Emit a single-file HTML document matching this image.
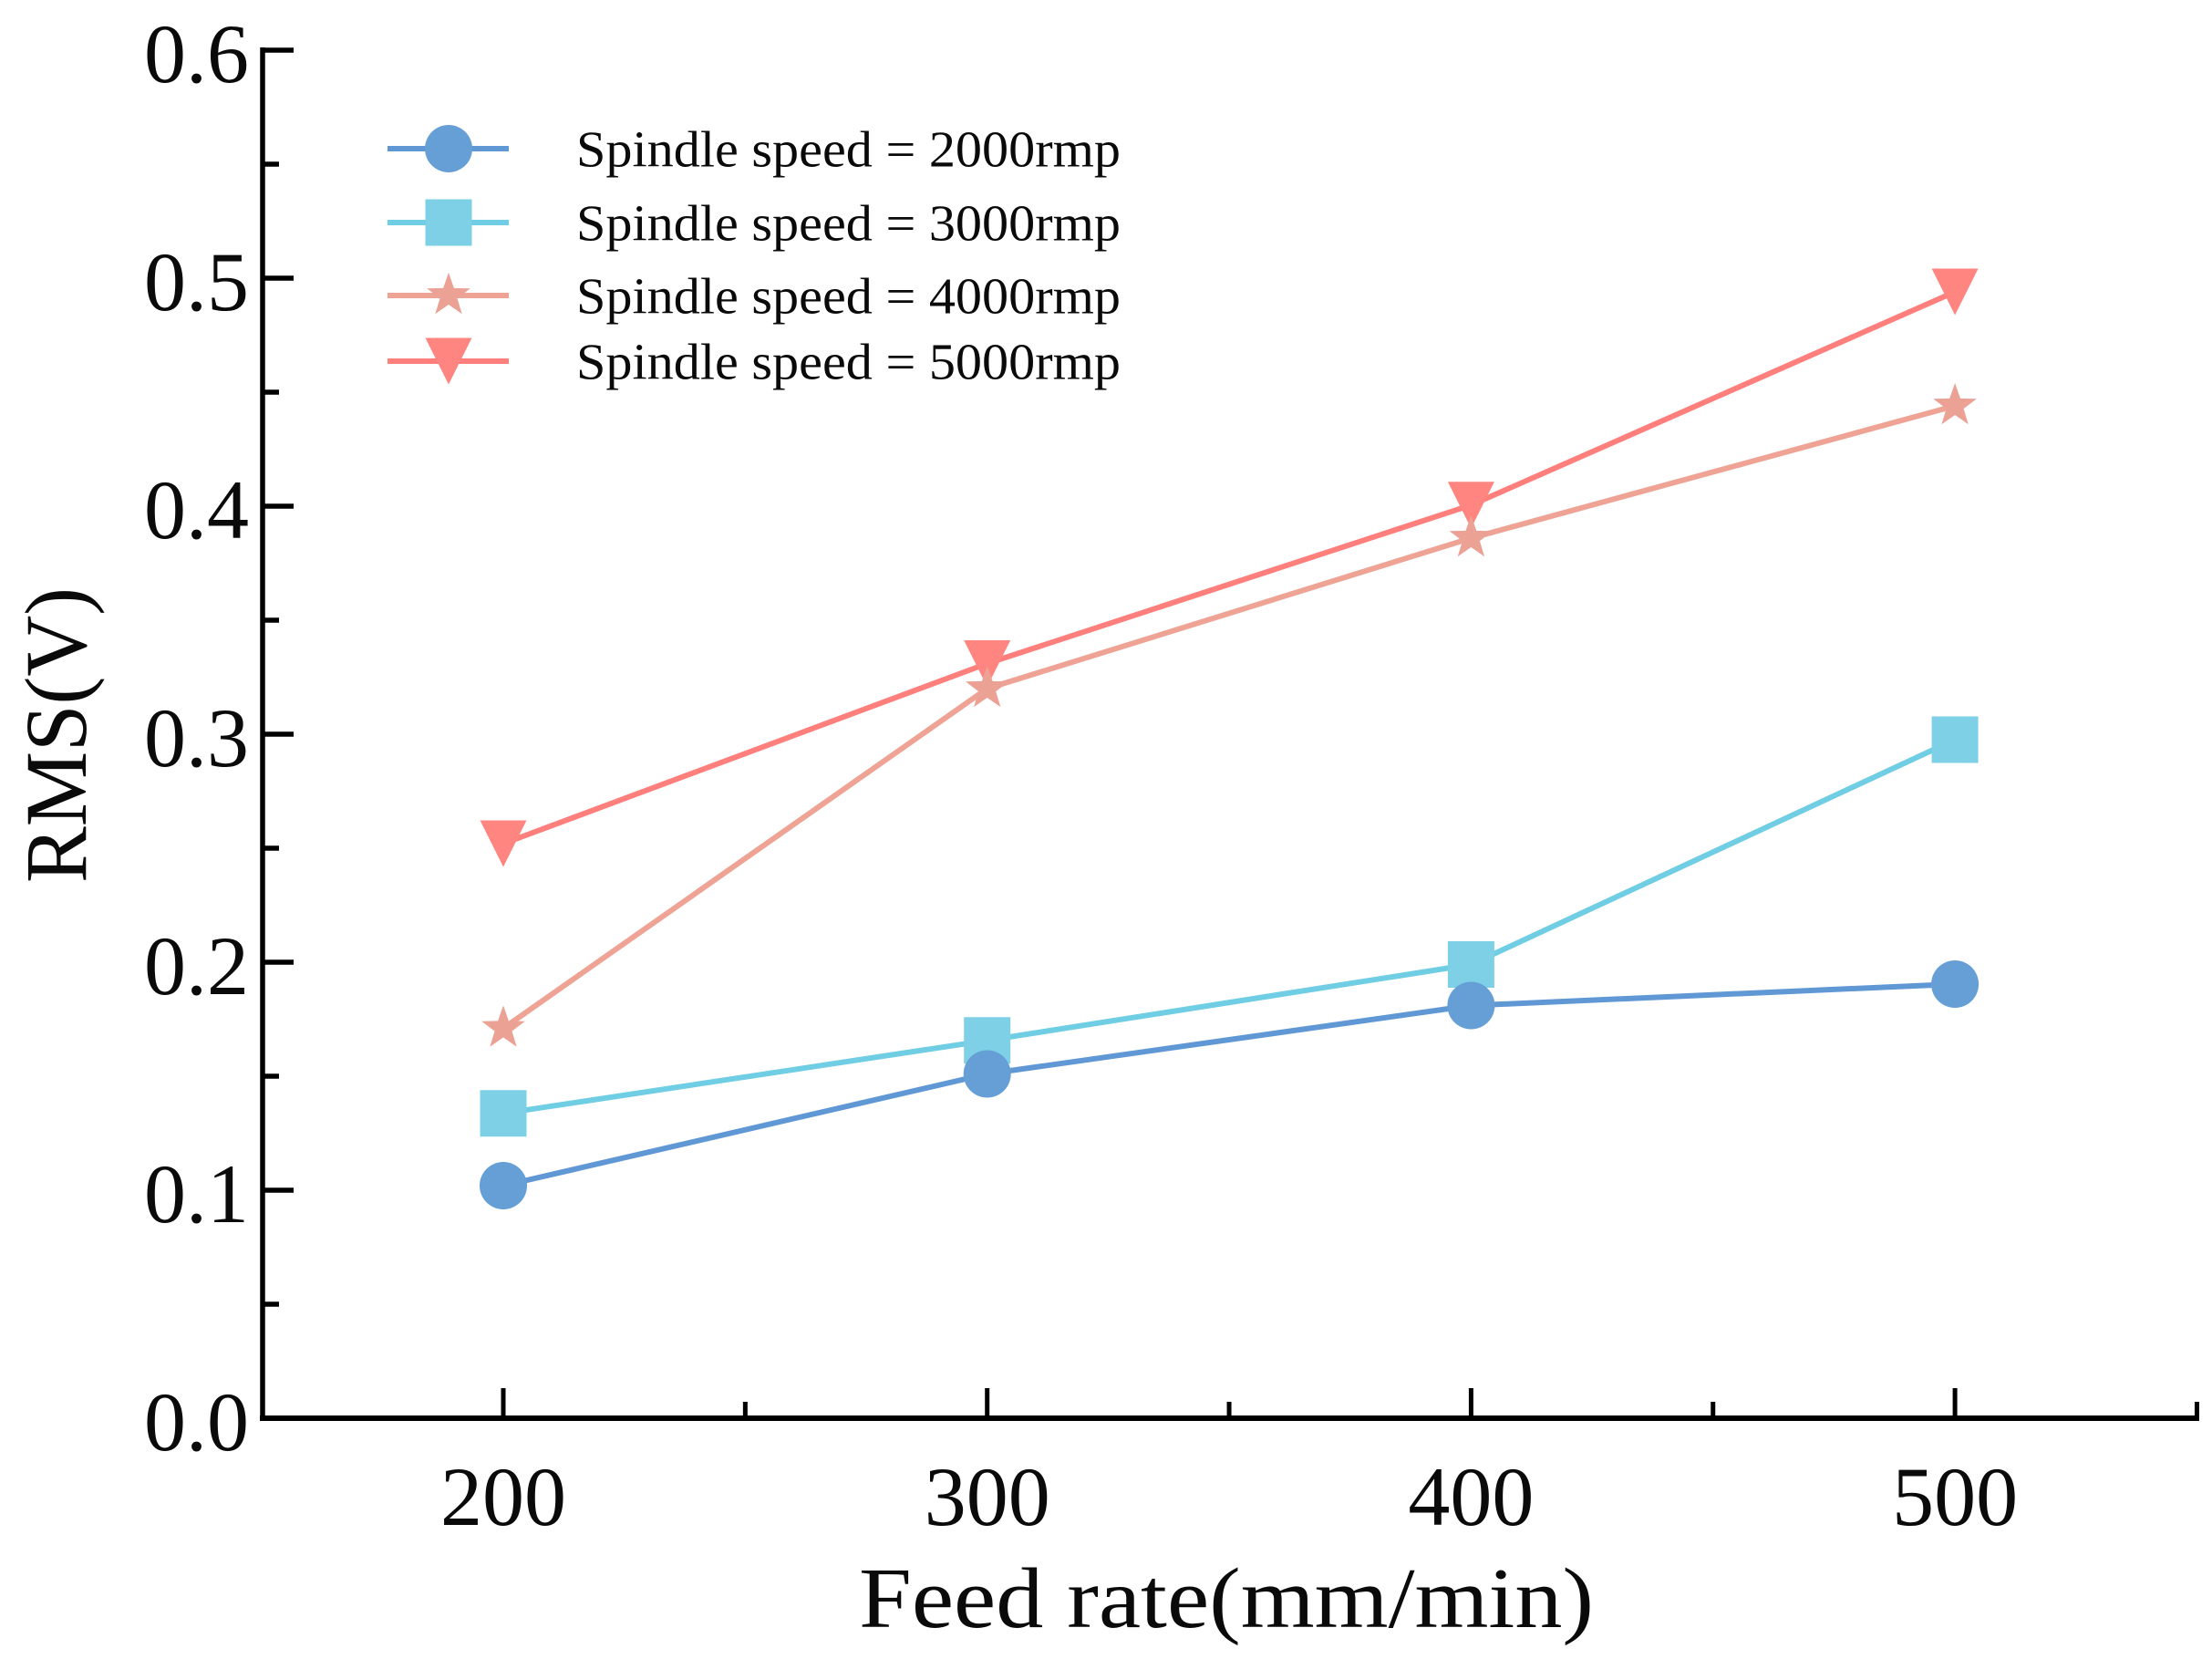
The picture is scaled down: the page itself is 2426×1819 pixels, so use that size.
<!DOCTYPE html>
<html lang="en">
<head>
<meta charset="utf-8">
<title>RMS vs feed rate</title>
<style>
html,body{margin:0;padding:0;background:#fff;width:2426px;height:1819px;overflow:hidden}
svg{display:block}
text{font-family:"Liberation Serif",serif;fill:#0a0a0a}
</style>
</head>
<body>
<svg id="chart" xmlns="http://www.w3.org/2000/svg" width="2426" height="1819" viewBox="0 0 2426 1819"></svg>
<script>
var xCategories = [200, 300, 400, 500];
var series2000 = [0.102, 0.151, 0.181, 0.1904];
var series3000 = [0.1337, 0.1657, 0.199, 0.2976];
var series4000 = [0.171, 0.32, 0.386, 0.444];
var series5000 = [0.252, 0.331, 0.4005, 0.494];
var seriesNames = ['Spindle speed = 2000rmp', 'Spindle speed = 3000rmp', 'Spindle speed = 4000rmp', 'Spindle speed = 5000rmp'];
var xMajorTicks = [200, 300, 400, 500];
var xMinorTicks = [250, 350, 450, 550];
var yMajorTicks = ['0.0', '0.1', '0.2', '0.3', '0.4', '0.5', '0.6'];
var yMinorTicks = [0.05, 0.15, 0.25, 0.35, 0.45, 0.55];
var xAxisTitle = 'Feed rate(mm/min)';
var yAxisTitle = 'RMS(V)';

var svg = document.getElementById('chart');
var NS = 'http://www.w3.org/2000/svg';
function xPos(v) { return 552 + (v - 200) * 5.307; }
function yPos(v) { return 1555 - v * 2500; }
function mk(tag, attrs, parent) {
  var el = document.createElementNS(NS, tag);
  for (var k in attrs) el.setAttribute(k, attrs[k]);
  (parent || svg).appendChild(el);
  return el;
}
function group(name) {
  var g = mk('g', {});
  
  
  return g;
}
function starPoints(cx, cy, R) {
  var pts = [], r = R * 0.4;
  for (var i = 0; i < 10; i++) {
    var a = -Math.PI / 2 + i * Math.PI / 5, q = i % 2 ? r : R;
    pts.push((cx + q * Math.cos(a)).toFixed(1) + ',' + (cy + q * Math.sin(a)).toFixed(1));
  }
  return pts.join(' ');
}
function drawMarker(kind, cx, cy, color, parent) {
  var el;
  if (kind === 'circle') el = mk('circle', {cx: cx, cy: cy, r: 26, fill: color}, parent);
  else if (kind === 'square') el = mk('rect', {x: cx - 25.5, y: cy - 25.5, width: 51, height: 51, fill: color}, parent);
  else if (kind === 'star') el = mk('polygon', {points: starPoints(cx, cy, 25), fill: color}, parent);
  else el = mk('polygon', {points: (cx - 25.5) + ',' + (cy - 25.5) + ' ' + (cx + 25.5) + ',' + (cy - 25.5) + ' ' + cx + ',' + (cy + 25.5), fill: color}, parent);
  return el;
}

/* axes */
var axes = group('axes');
var yAxisLine = mk('line', {x1: 288, y1: 52, x2: 288, y2: 1558, stroke: '#000', 'stroke-width': 5.5}, axes);


var xAxisLine = mk('line', {x1: 285, y1: 1555, x2: xPos(550) + 2.5, y2: 1555, stroke: '#000', 'stroke-width': 6}, axes);



xMajorTicks.forEach(function (v) {
  var t = mk('line', {x1: xPos(v), y1: 1555, x2: xPos(v), y2: 1522, stroke: '#000', 'stroke-width': 5}, axes);
  
  
  var l = mk('text', {x: xPos(v), y: 1672, 'font-size': 92, 'text-anchor': 'middle'}, axes);
  
  
  l.textContent = String(v);
});
xMinorTicks.forEach(function (v) {
  var t = mk('line', {x1: xPos(v), y1: 1555, x2: xPos(v), y2: 1537, stroke: '#000', 'stroke-width': 5}, axes);
  
  
});
yMajorTicks.forEach(function (s) {
  var v = parseFloat(s);
  var t = mk('line', {x1: 288, y1: yPos(v), x2: 322, y2: yPos(v), stroke: '#000', 'stroke-width': 5.5}, axes);
  
  
  var l = mk('text', {x: 273, y: yPos(v) + 35, 'font-size': 92, 'text-anchor': 'end'}, axes);
  
  
  l.textContent = s;
});
yMinorTicks.forEach(function (v) {
  var t = mk('line', {x1: 288, y1: yPos(v), x2: 306, y2: yPos(v), stroke: '#000', 'stroke-width': 5.5}, axes);
  
  
});

var xTitle = mk('text', {x: 942, y: 1784, 'font-size': 94, textLength: 806, lengthAdjust: 'spacingAndGlyphs'});


xTitle.textContent = xAxisTitle;

var yTitle = mk('text', {x: 0, y: 0, transform: 'translate(94,968) rotate(-90)', 'font-size': 96, textLength: 324, lengthAdjust: 'spacingAndGlyphs'});


yTitle.textContent = yAxisTitle;

/* series */
var seriesValues = [series2000, series3000, series4000, series5000];
var lineColors = ['#5f98d5', '#6fcde4', '#eea395', '#ff7f7c'];
var markerColors = ['#659fd6', '#7dd0e6', '#eca195', '#ff8580'];
var markerKinds = ['circle', 'square', 'star', 'triangle'];
var seriesIds = ['2000', '3000', '4000', '5000'];
var drawOrder = [3, 2, 1, 0];

drawOrder.forEach(function (i) {
  var g = group('series-' + seriesIds[i]);
  var pts = seriesValues[i].map(function (v, j) { return xPos(xCategories[j]).toFixed(1) + ',' + yPos(v).toFixed(1); }).join(' ');
  var pl = mk('polyline', {points: pts, fill: 'none', stroke: lineColors[i], 'stroke-width': 6, 'stroke-linejoin': 'round'}, g);
  
  
  seriesValues[i].forEach(function (v, j) {
    var m = drawMarker(markerKinds[i], xPos(xCategories[j]), yPos(v), markerColors[i], g);
    
    
  });
});

/* legend */
var legend = group('legend');
var legendRowY = [163, 244, 324, 396];
seriesNames.forEach(function (name, i) {
  var row = mk('g', {}, legend);
  
  
  var y = legendRowY[i];
  mk('line', {x1: 425, y1: y, x2: 558, y2: y, stroke: lineColors[i], 'stroke-width': 6}, row);
  drawMarker(markerKinds[i], 492, y, markerColors[i], row);
  var t = mk('text', {x: 632, y: y + 19.5, 'font-size': 56, textLength: 597, lengthAdjust: 'spacingAndGlyphs'}, row);
  
  
  t.textContent = name;
});
</script>
</body>
</html>
